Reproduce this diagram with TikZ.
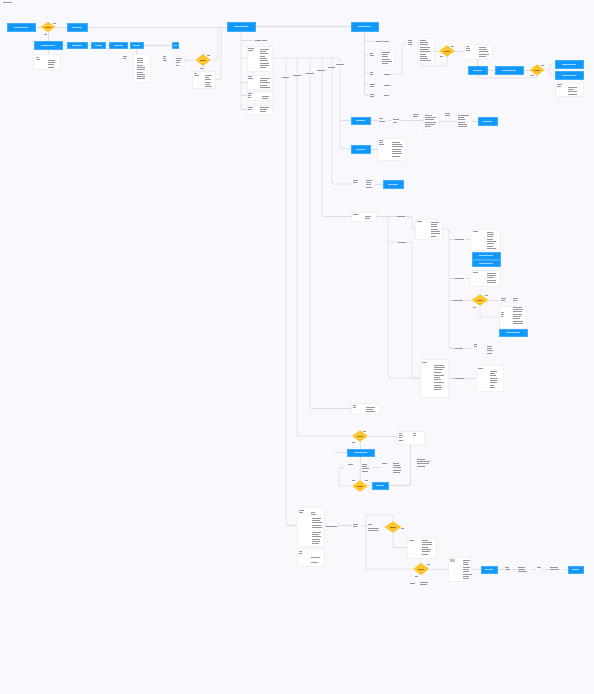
\documentclass[tikz,border=0pt]{standalone}
\usetikzlibrary{shapes.geometric}
\pgfdeclarelayer{back}\pgfdeclarelayer{bg}
\pgfsetlayers{back,bg,main}
\definecolor{bgc}{RGB}{249,248,252}
\definecolor{bluec}{RGB}{16,152,250}
\definecolor{yelc}{RGB}{255,199,44}
\definecolor{lnc}{RGB}{220,220,228}
\definecolor{txtc}{RGB}{150,150,162}
\definecolor{cardln}{RGB}{240,240,245}
\tikzset{
 bbox/.style={rectangle,fill=bluec,draw=bluec!80!white,line width=0.3pt,inner sep=0pt},
 card/.style={rectangle,fill=white,draw=cardln,line width=0.3pt,inner sep=0pt},
 blk/.style={rectangle,inner sep=0pt},
 dia/.style={diamond,fill=yelc,draw=yelc!90!orange,line width=0.3pt,inner sep=0pt},
 ln/.style={draw=lnc,line width=0.8pt,rounded corners=1.5pt},
}
\newcommand\Tline[3]{\fill[txtc] (#1,{#2-0.3}) rectangle ++(#3,0.6);}
\newcommand\Tlist[4]{\foreach \ii in {1,...,#3}{\fill[txtc] (#1,{#2+(\ii-1)*2.3-0.3}) rectangle ++({#4*(0.55+0.45*rnd)},0.6);}}
\newcommand\Lab[3]{\fill[bgc] ({#1-0.5},{#2-1.3}) rectangle ++({#3+1},2.6);\fill[txtc] (#1,{#2-0.3}) rectangle ++(#3,0.6);}
\newcommand\Bbox[5]{\pgfmathsetmacro\bwd{#4-#2}\pgfmathsetmacro\bht{#5-#3}%
 \node[bbox,minimum width=\bwd pt,minimum height=\bht pt] (#1) at ({(#2+#4)/2},{(#3+#5)/2}) {};%
 \fill[white,opacity=0.6] ({(#2+#4)/2-\bwd*0.25},{(#3+#5)/2-0.3}) rectangle ++({\bwd*0.5},0.6);}
\newcommand\Card[5]{\pgfmathsetmacro\bwd{#4-#2}\pgfmathsetmacro\bht{#5-#3}%
 \node[card,minimum width=\bwd pt,minimum height=\bht pt] (#1) at ({(#2+#4)/2},{(#3+#5)/2}) {};}
\newcommand\Blk[5]{\pgfmathsetmacro\bwd{#4-#2}\pgfmathsetmacro\bht{#5-#3}%
 \node[blk,minimum width=\bwd pt,minimum height=\bht pt] (#1) at ({(#2+#4)/2},{(#3+#5)/2}) {};}
\newcommand\Dia[5]{\node[dia,minimum width=#4pt,minimum height=#5pt] (#1) at (#2,#3) {};%
 \fill[yelc!60!black] ({#2-3},{#3-0.3}) rectangle ++(6,0.6);}
\begin{document}
\begin{tikzpicture}[x=1pt,y=-1pt]
\pgfmathsetseed{7}
\begin{pgfonlayer}{back}
\fill[bgc] (0,0) rectangle (594,694);
\end{pgfonlayer}
\useasboundingbox (0,0) rectangle (594,694);
\Tline{3}{2.5}{9}
% ---------- top row
\Bbox{A}{7}{23}{35}{31}
\Dia{D1}{48}{27}{14}{10}
\Bbox{B}{67}{23}{87}{31}
\Bbox{C}{227}{22}{255}{31}
\Bbox{R}{351}{22}{378}{31}
\Tline{53}{23}{2.5}\Tline{44}{34}{2.5}
\Bbox{E}{34}{41}{62}{49}
\Bbox{F}{67}{42}{87}{48}
\Bbox{G}{91}{42}{105}{48}
\Bbox{H}{109}{42}{127}{48}
\Bbox{I}{130}{42}{143}{48}
\Bbox{J}{172}{42}{178}{48}
\Card{cE}{33}{54}{60}{69}
\Tlist{36}{57}{2}{5}\Tlist{48}{60}{4}{7}
\Card{cI}{133}{54}{150}{82}
\Tlist{123}{56}{2}{5}\Tlist{137}{58}{10}{9}
\Blk{tJa}{162}{55}{168}{63}\Tlist{163}{56}{3}{4}
\Card{tJb}{174}{56}{184}{65}\Tlist{176}{58}{4}{6}
\Dia{D2}{203}{60}{14}{12}
\Tline{207}{55}{3}\Tline{200}{68}{3}
\Card{cD2}{192}{71}{215}{88}
\Tlist{194}{73}{2}{5}\Tlist{205}{75}{6}{7}
\coordinate (m1) at (218,27);
\coordinate (m2) at (221,27);
% ---------- central tree
\Blk{l40}{254}{38.5}{268}{41.5}\Tline{255}{40}{6}\Tline{262}{40}{5}
\Card{k1}{247}{46}{272}{71}\Tlist{248}{48}{2}{6}\Tlist{260}{49}{9}{9}
\Card{k2}{247}{75}{272}{89}\Tlist{248}{76}{2}{6}\Tlist{260}{78}{5}{11}
\Card{k3}{247}{91}{272}{100}\Tlist{248}{93}{3}{5}\Tlist{262}{96}{2}{10}
\Card{k4}{247}{105}{272}{114}\Tlist{248}{107}{2}{5}\Tlist{260}{107}{3}{10}
\Lab{282}{77}{7}\Lab{293}{75}{8}\Lab{306}{73}{8}\Lab{317}{70}{8}\Lab{328}{67}{7}\Lab{336}{64}{8}
% ---------- right tree
\Blk{r41}{375}{39.5}{390}{42.5}\Tline{376}{41}{6}\Tline{383}{41}{6}
\Blk{r56l}{369}{52}{375}{57}\Tlist{370}{53}{2}{5}
\Card{r56}{380}{50}{394}{65}\Tlist{382}{52}{6}{10}
\Blk{r74l}{369}{71}{375}{76}\Tlist{370}{72}{2}{5}
\Blk{r74t}{383}{73}{391}{75}\Tline{384}{74}{6}
\Blk{r85l}{369}{82}{375}{87}\Tlist{370}{84}{2}{5}\Tline{384}{85}{6}
\Blk{r95l}{369}{93}{375}{98}\Tlist{370}{94}{2}{5}\Tline{384}{95}{5}
\Blk{X1}{407}{39}{417}{47}\Tlist{408}{40}{3}{5}
\Card{X2}{418}{38}{434}{63}\Tlist{420}{40}{10}{11}
\Dia{D3}{447}{51}{15}{11}
\Tline{451}{46}{3}\Tline{440}{56}{3}
\Card{X3}{464}{44}{492}{59}\Tlist{466}{46}{3}{5}\Tlist{479}{47}{5}{10}
\Bbox{L1}{468}{66}{487}{74}
\Bbox{L2}{495}{66}{523}{74}
\Dia{D4}{537}{70}{14}{11}
\Tline{541}{65}{3}\Tline{531}{75.5}{3}
\Bbox{M1}{555}{60}{583}{68}
\Bbox{M2}{555}{71}{583}{79}
\Card{X4}{555}{83}{583}{96}\Tlist{557}{84}{2}{5}\Tlist{568}{87}{4}{10}
% ---------- x340 branch
\Bbox{K1}{351}{117}{370}{124}
\Blk{t1}{378}{118}{387}{123}\Tlist{379}{118.5}{2}{6}
\Blk{t2}{392}{118}{401}{123}\Tlist{393}{119.5}{2}{6}
\Tlist{413}{114}{2}{6}
\Card{c3}{423}{113}{438}{129}\Tlist{425}{115}{6}{11}
\Tlist{445}{113}{2}{7}
\Card{c4}{456}{113}{471}{129}\Tlist{458}{115}{6}{11}
\Bbox{K2}{478}{117}{497}{125}
\Bbox{K3}{351}{145}{370}{153}
\Card{c5}{377}{138}{405}{160}\Tlist{379}{140}{3}{6}\Tlist{392}{142}{7}{11}
\Blk{N332}{351}{179}{375}{189}\Tlist{353}{180}{2}{5}\Tlist{366}{180}{4}{7}
\Bbox{K4}{383}{180}{403}{188}
% ---------- x321 branch
\Card{N321}{351}{212}{376}{221}\Tline{353}{214}{5}\Tlist{365}{216}{2}{8}
\Card{B1}{415}{219}{442}{239}\Tline{417}{221}{5}\Tlist{431}{222}{7}{9}
\Card{P1}{470}{229}{500}{250}\Tline{473}{231}{5}\Tlist{487}{232}{8}{10}
\Bbox{P2}{472}{252}{500}{259}
\Bbox{P3}{472}{260}{500}{266}
\Card{P4}{470}{270}{500}{286}\Tline{473}{272}{5}\Tlist{487}{273}{5}{10}
\Dia{D5}{480}{300}{16}{11}
\Tline{485}{295.5}{3}\Tline{473}{307}{3}
\Blk{P5}{500}{297}{521}{303}\Tlist{501}{298}{2}{5}\Tlist{513}{298}{2}{6}
\Card{P6}{499}{306}{526}{328}\Tlist{501}{312}{3}{4}\Tlist{513}{307}{8}{10}
\Bbox{P7}{499}{329}{527}{336}
\Blk{P8}{472}{342}{494}{355}\Tlist{474}{344}{2}{5}\Tlist{487}{346}{4}{6}
\Card{Q}{420}{359}{448}{397}\Tline{422}{362}{5}\Tlist{434}{365}{4}{11}\Tlist{434}{375}{4}{11}\Tlist{434}{385}{3}{8}
\Card{Q2}{476}{365}{503}{391}\Tline{478}{368}{5}\Tlist{490}{371}{8}{8}
% ---------- x311 branch
\Card{N311}{351}{403}{380}{414}\Tlist{353}{405}{2}{4}\Tlist{366}{407}{3}{11}
% ---------- x297 branch
\Dia{D6}{360}{436}{15}{11}
\Tline{363}{431.5}{3}\Tline{352}{442.5}{3}
\Card{S1}{397}{431}{424}{444}\Tlist{399}{433}{4}{5}\Tlist{413}{433}{2}{5}
\Bbox{S2}{347}{449}{374}{456}
\coordinate (s2in) at (335,452.5);
\Dia{D7}{360}{486}{15}{11}
\Blk{S3}{344}{461}{373}{474}\Tline{348}{464}{5}\Tlist{362}{464}{4}{9}
\Blk{S4}{381}{461}{404}{474}\Tline{382}{463}{5}\Tlist{393}{463}{5}{9}
\Tline{352}{480.5}{3}\Tline{365}{480.5}{3}
\Bbox{S5}{372}{482}{388}{489}
\Tlist{417}{459}{4}{13}
% ---------- x286 branch
\Card{U2}{297}{507}{324}{546}\Tlist{299}{510}{2}{5}\Tlist{311}{512}{2}{7}\Tlist{312}{518}{5}{11}\Tlist{312}{532}{6}{10}
\Card{U3}{297}{548}{324}{566}\Tlist{299}{551}{2}{5}\Tline{311}{557}{9}\Tline{311}{562}{7}
\Blk{U1}{352}{522}{361}{529}\Tlist{353}{524}{2}{5}
\Blk{V}{367}{522}{383}{531}\Tline{368}{524}{4}\Tlist{368}{528}{2}{14}
\Dia{D8}{393}{527}{16}{11}
\Tline{401}{528.5}{3}
\Card{W}{407}{537}{436}{558}\Tline{409}{540}{5}\Tlist{422}{540}{7}{11}
\Dia{D9}{421}{569}{15}{12}
\Tline{427}{564.5}{3}\Tline{415}{576.5}{3}
\Tline{410}{583}{5}\Tlist{420}{582}{2}{13}
\Card{Y}{448}{557}{471}{581}
\fill[txtc!60] (449.5,559) rectangle (455,562);
\Tlist{463}{560}{9}{9}
\Bbox{Z1}{481}{566}{497}{573}
\Blk{z1}{504}{566}{512}{572}\Tlist{505}{567}{2}{6}
\Blk{z2}{517}{566}{531}{572}\Tlist{518}{567}{3}{12}
\Blk{z3}{536}{566}{542}{572}\Tline{537}{567}{4}
\Blk{z4}{549}{566}{563}{572}\Tlist{550}{567}{2}{12}
\Bbox{Z2}{568}{566}{583}{573}
% ---------- labels on connectors
\Lab{397}{216.5}{8}
\Lab{398}{242}{8}
\Lab{455}{239.5}{9}
\Lab{455}{278}{9}
\Lab{453}{300}{10}
\Lab{455}{348.5}{8}
\Lab{455}{378}{9}
\Lab{326}{526.5}{11}
% ================= connectors
\begin{pgfonlayer}{bg}
\draw[ln] (A) -- (D1);
\draw[ln] (D1) -- (B);
\draw[ln] (B.east) -- (C.west |- B.east);
\draw[ln] (C) -- (R);
\draw[ln] (D1) -- (E);
\draw[ln] (E) -- (F);
\draw[ln] (F) -- (G);
\draw[ln] (G) -- (H);
\draw[ln] (H) -- (I);
\draw[ln] (I) -- (J);
\draw[ln] (E.south) -- (E.south |- cE.north);
\draw[ln] (I.south) -- (I.south |- cI.north);
\draw[ln] (tJb) -- (D2);
\draw[ln] (D2) -- (D2 |- cD2.north);
\draw[ln] (D2.east) -| (m1);
\draw[ln] (cD2.east) -| (m2);
% central tree
\draw[ln] (C.south) |- (k4.west);
\draw[ln] (C.south |- l40.west) -- (l40.west);
\draw[ln] (C.south |- k2.west) -- (k2.west);
\draw[ln] (C.south |- k3.west) -- (k3.west);
\draw[ln] (241,58) -- (340,58) |- (K3.west);
\draw[ln] (340,120.5) -- (K1.west);
\draw[ln] (332,58) |- (N332.west);
\draw[ln] (322,58) |- (N321.west);
\draw[ln] (310,58) |- (N311.west);
\draw[ln] (297,58) |- (D6.west);
\draw[ln] (286,58) |- (U1.west);
% right tree
\draw[ln] (R.south) |- (r95l.west);
\draw[ln] (R.south |- r41.west) -- (r41.west);
\draw[ln] (R.south |- r56l.west) -- (r56l.west);
\draw[ln] (R.south |- r74l.west) -- (r74l.west);
\draw[ln] (R.south |- r85l.west) -- (r85l.west);
\draw[ln] (r74t.east) -- (402,74) |- (X1.west);
\draw[ln] (X1.east) -- (X1.east -| X2.west);
\draw[ln] (X2.east |- D3) -- (D3.west);
\draw[ln] (D3.south) -- (447,66) -| (421,63);
\draw[ln] (D3.east) -- (D3.east -| X3.west);
\draw[ln] (L1.north |- X3.south) -- (L1.north);
\draw[ln] (L1) -- (L2);
\draw[ln] (L2) -- (D4);
\draw[ln] (D4.east) -- (550,70) |- (M1.west);
\draw[ln] (550,70) |- (M2.west);
\draw[ln] (D4.south) -- (537,78) -| (L1.south);
% x340
\draw[ln] (K1.east) -- (K1.east -| t1.west);
\draw[ln] (t1.east) -- (t2.west);
\draw[ln] (t2.east) -- (t2.east -| c3.west);
\draw[ln] (c3.east) -- (c3.east -| c4.west);
\draw[ln] (c4.east) -- (c4.east -| K2.west);
\draw[ln] (K3) -- (K3 -| c5.west);
\draw[ln] (N332.east |- K4) -- (K4.west);
% x321
\draw[ln] (N321.east) -- (412,216.5) |- (B1.west);
\draw[ln] (388,216.5) |- (Q.west);
\draw[ln] (388,242) -- (412,242) |- (Q.west);
\draw[ln] (B1.east) -- (449,229) |- (P8.west);
\draw[ln] (449,239.5) -- (P1.west);
\draw[ln] (449,278) -- (P4.west);
\draw[ln] (449,300) -- (D5.west);
\draw[ln] (D5.east) -- (P5.west);
\draw[ln] (D5.south) |- (P6.west);
\draw[ln] (Q.east) -- (Q2.west);
% x297
\draw[ln] (D6.east) -- (D6.east -| S1.west);
\draw[ln] (D6) -- (S2);
\draw[ln] (s2in) -- (S2.west);
\draw[ln] (S2) -- (D7);
\draw[ln] (D7.west) -- (339,486) |- (S3.west);
\draw[ln] (S3.east) -- (S4.west);
\draw[ln] (D7) -- (S5);
\draw[ln] (S5.east) -| (S1.south);
% x286
\draw[ln] (U1.east) -- (V.west);
\draw[ln] (V.east) -- (D8.west);
\draw[ln] (D8.north) |- (366,515) |- (D9.west);
\draw[ln] (D8.south) |- (W.west);
\draw[ln] (D9.east) -- (Y.west);
\draw[ln] (Y.east) -- (Y.east -| Z1.west);
\draw[ln] (Z1.east) -- (Z1.east -| z1.west);
\draw[ln] (z1.east) -- (z1.east -| z2.west);
\draw[ln] (z2.east) -- (z2.east -| z3.west);
\draw[ln] (z3.east) -- (z3.east -| z4.west);
\draw[ln] (z4.east) -- (z4.east -| Z2.west);
\end{pgfonlayer}
\end{tikzpicture}
\end{document}
